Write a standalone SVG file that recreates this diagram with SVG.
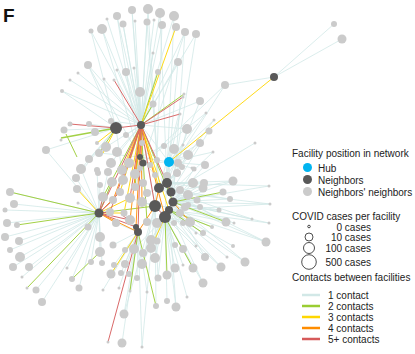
<svg xmlns="http://www.w3.org/2000/svg" width="415" height="354" viewBox="0 0 415 354">
<style>
text{font-family:"Liberation Sans",Arial,sans-serif;font-size:10px;fill:#222}
.e1{stroke:#d2e8e7;stroke-width:0.8}
.e2{stroke:#9acd32;stroke-width:1}
.e3{stroke:#ffd700;stroke-width:1}
.e4{stroke:#ff8c00;stroke-width:1}
.e5{stroke:#d65a5a;stroke-width:1}
.col{opacity:0.9}
.nn{fill:#cbcbcb}
.nb{fill:#595959}
.hub{fill:#00b4f0}
.sz{fill:#fff;stroke:#222;stroke-width:0.8}
</style>
<rect width="415" height="354" fill="#fff"/>
<text x="3" y="22" style="font-size:19px;font-weight:bold;fill:#111">F</text>
<g id="connectors" fill="none">
<g class="e1">
<line x1="141" y1="125" x2="132" y2="10"/><line x1="141" y1="125" x2="148" y2="9"/><line x1="141" y1="125" x2="160" y2="13"/><line x1="141" y1="125" x2="174" y2="16"/><line x1="141" y1="125" x2="117" y2="16"/><line x1="141" y1="125" x2="123" y2="24"/><line x1="141" y1="125" x2="147" y2="22"/><line x1="141" y1="125" x2="162" y2="25"/><line x1="141" y1="125" x2="185" y2="32"/><line x1="141" y1="125" x2="196" y2="34"/><line x1="141" y1="125" x2="102" y2="29"/><line x1="141" y1="125" x2="91" y2="31"/><line x1="141" y1="125" x2="107" y2="19"/><line x1="141" y1="125" x2="135" y2="21"/><line x1="141" y1="125" x2="154" y2="20"/><line x1="141" y1="125" x2="153" y2="53"/><line x1="141" y1="125" x2="178" y2="62"/><line x1="141" y1="125" x2="88" y2="65"/><line x1="141" y1="125" x2="78" y2="73"/><line x1="141" y1="125" x2="70" y2="80"/><line x1="141" y1="125" x2="62" y2="91"/><line x1="141" y1="125" x2="104" y2="79"/><line x1="141" y1="125" x2="126" y2="72"/><line x1="141" y1="125" x2="134" y2="68"/><line x1="141" y1="125" x2="140" y2="92"/><line x1="141" y1="125" x2="153" y2="104"/><line x1="141" y1="125" x2="200" y2="101"/><line x1="141" y1="125" x2="187" y2="129"/><line x1="141" y1="125" x2="111" y2="121"/><line x1="141" y1="125" x2="126" y2="135"/><line x1="141" y1="125" x2="117" y2="70"/>
<line x1="143" y1="163" x2="132" y2="10"/><line x1="167" y1="183" x2="160" y2="13"/><line x1="140" y1="157" x2="117" y2="16"/><line x1="155" y1="206" x2="162" y2="25"/><line x1="171" y1="192" x2="196" y2="34"/><line x1="167" y1="183" x2="178" y2="62"/><line x1="167" y1="183" x2="200" y2="101"/><line x1="171" y1="192" x2="187" y2="129"/><line x1="140" y1="157" x2="102" y2="29"/><line x1="116" y1="128" x2="88" y2="65"/><line x1="116" y1="128" x2="91" y2="31"/><line x1="143" y1="163" x2="185" y2="32"/><line x1="159" y1="188" x2="147" y2="22"/><line x1="165" y1="217" x2="174" y2="16"/><line x1="159" y1="188" x2="148" y2="9"/><line x1="173" y1="202" x2="185" y2="32"/><line x1="155" y1="206" x2="123" y2="24"/><line x1="143" y1="163" x2="88" y2="65"/>
<line x1="116" y1="128" x2="89" y2="124"/><line x1="116" y1="128" x2="64" y2="130"/><line x1="116" y1="128" x2="95" y2="132"/><line x1="116" y1="128" x2="46" y2="150"/><line x1="116" y1="128" x2="89" y2="159"/><line x1="116" y1="128" x2="81" y2="169"/><line x1="116" y1="128" x2="76" y2="178"/><line x1="116" y1="128" x2="62" y2="91"/>
<line x1="141" y1="125" x2="106" y2="147"/><line x1="141" y1="125" x2="117" y2="152"/><line x1="141" y1="125" x2="111" y2="163"/><line x1="141" y1="125" x2="129" y2="163"/><line x1="141" y1="125" x2="142" y2="143"/>
<line x1="140" y1="157" x2="150" y2="165"/><line x1="140" y1="157" x2="155" y2="175"/><line x1="140" y1="157" x2="164" y2="146"/><line x1="140" y1="157" x2="157" y2="160"/><line x1="140" y1="157" x2="129" y2="163"/><line x1="140" y1="157" x2="99" y2="153"/>
<line x1="169" y1="162" x2="167" y2="176"/><line x1="169" y1="162" x2="174" y2="149"/><line x1="169" y1="162" x2="188" y2="155"/><line x1="169" y1="162" x2="178" y2="163"/><line x1="169" y1="162" x2="192" y2="168"/><line x1="169" y1="162" x2="183" y2="145"/><line x1="169" y1="162" x2="180" y2="114"/><line x1="169" y1="162" x2="206" y2="113"/><line x1="169" y1="162" x2="214" y2="120"/><line x1="169" y1="162" x2="141" y2="125"/><line x1="169" y1="162" x2="143" y2="163"/><line x1="169" y1="162" x2="167" y2="183"/><line x1="169" y1="162" x2="171" y2="192"/><line x1="169" y1="162" x2="140" y2="157"/><line x1="169" y1="162" x2="200" y2="143"/><line x1="169" y1="162" x2="205" y2="165"/><line x1="169" y1="162" x2="213" y2="152"/>
<line x1="274" y1="77" x2="225" y2="85"/><line x1="143" y1="163" x2="225" y2="85"/><line x1="274" y1="77" x2="334" y2="24"/><line x1="274" y1="77" x2="342" y2="39"/><line x1="171" y1="192" x2="255" y2="143"/><line x1="171" y1="192" x2="209" y2="131"/><line x1="155" y1="206" x2="184" y2="94"/><line x1="143" y1="163" x2="206" y2="113"/><line x1="159" y1="188" x2="225" y2="85"/><line x1="167" y1="183" x2="214" y2="120"/>
<line x1="99" y1="213" x2="10" y2="192"/><line x1="99" y1="213" x2="14" y2="204"/><line x1="99" y1="213" x2="5" y2="210"/><line x1="99" y1="213" x2="7" y2="223"/><line x1="99" y1="213" x2="5" y2="237"/><line x1="99" y1="213" x2="19" y2="241"/><line x1="99" y1="213" x2="10" y2="250"/><line x1="99" y1="213" x2="20" y2="257"/><line x1="99" y1="213" x2="13" y2="267"/><line x1="99" y1="213" x2="29" y2="267"/><line x1="99" y1="213" x2="22" y2="277"/><line x1="99" y1="213" x2="36" y2="290"/><line x1="99" y1="213" x2="42" y2="302"/><line x1="99" y1="213" x2="72" y2="279"/><line x1="99" y1="213" x2="79" y2="288"/><line x1="99" y1="213" x2="67" y2="268"/><line x1="99" y1="213" x2="78" y2="203"/><line x1="99" y1="213" x2="88" y2="227"/><line x1="99" y1="213" x2="100" y2="237"/><line x1="99" y1="213" x2="100" y2="252"/><line x1="99" y1="213" x2="91" y2="262"/><line x1="99" y1="213" x2="102" y2="263"/><line x1="99" y1="213" x2="100" y2="185"/><line x1="99" y1="213" x2="97" y2="170"/><line x1="99" y1="213" x2="108" y2="172"/><line x1="99" y1="213" x2="81" y2="169"/><line x1="99" y1="213" x2="76" y2="178"/><line x1="99" y1="213" x2="46" y2="150"/>
<line x1="138" y1="232" x2="111" y2="274"/><line x1="138" y1="232" x2="121" y2="273"/><line x1="138" y1="232" x2="129" y2="274"/><line x1="138" y1="232" x2="137" y2="278"/><line x1="138" y1="232" x2="124" y2="314"/><line x1="138" y1="232" x2="122" y2="343"/><line x1="138" y1="232" x2="142" y2="347"/><line x1="138" y1="232" x2="125" y2="250"/><line x1="138" y1="232" x2="125" y2="264"/><line x1="138" y1="232" x2="114" y2="265"/><line x1="138" y1="232" x2="113" y2="245"/><line x1="138" y1="232" x2="103" y2="290"/><line x1="138" y1="232" x2="119" y2="288"/><line x1="138" y1="232" x2="130" y2="291"/><line x1="138" y1="232" x2="147" y2="292"/>
<line x1="165" y1="217" x2="142" y2="264"/><line x1="165" y1="217" x2="155" y2="258"/><line x1="165" y1="217" x2="151" y2="248"/><line x1="165" y1="217" x2="143" y2="253"/><line x1="165" y1="217" x2="134" y2="249"/><line x1="165" y1="217" x2="158" y2="278"/><line x1="165" y1="217" x2="175" y2="268"/><line x1="165" y1="217" x2="183" y2="265"/><line x1="165" y1="217" x2="193" y2="268"/><line x1="165" y1="217" x2="203" y2="283"/><line x1="165" y1="217" x2="205" y2="257"/><line x1="165" y1="217" x2="183" y2="249"/><line x1="165" y1="217" x2="175" y2="245"/><line x1="165" y1="217" x2="157" y2="241"/><line x1="165" y1="217" x2="167" y2="301"/><line x1="165" y1="217" x2="176" y2="307"/><line x1="165" y1="217" x2="187" y2="297"/><line x1="155" y1="206" x2="124" y2="314"/><line x1="155" y1="206" x2="142" y2="264"/><line x1="155" y1="206" x2="158" y2="278"/><line x1="155" y1="206" x2="156" y2="306"/><line x1="155" y1="206" x2="142" y2="347"/><line x1="169" y1="210" x2="203" y2="283"/><line x1="169" y1="210" x2="176" y2="307"/><line x1="173" y1="202" x2="205" y2="257"/>
<line x1="173" y1="202" x2="233" y2="181"/><line x1="173" y1="202" x2="230" y2="199"/><line x1="173" y1="202" x2="219" y2="210"/><line x1="173" y1="202" x2="234" y2="223"/><line x1="173" y1="202" x2="252" y2="219"/><line x1="173" y1="202" x2="269" y2="186"/><line x1="173" y1="202" x2="270" y2="204"/><line x1="173" y1="202" x2="269" y2="223"/><line x1="173" y1="202" x2="266" y2="242"/><line x1="173" y1="202" x2="245" y2="262"/><line x1="173" y1="202" x2="203" y2="188"/><line x1="173" y1="202" x2="194" y2="169"/><line x1="173" y1="202" x2="193" y2="183"/><line x1="173" y1="202" x2="197" y2="200"/><line x1="173" y1="202" x2="188" y2="205"/><line x1="173" y1="202" x2="204" y2="183"/>
<line x1="169" y1="210" x2="226" y2="222"/><line x1="169" y1="210" x2="212" y2="227"/><line x1="169" y1="210" x2="266" y2="242"/><line x1="169" y1="210" x2="233" y2="246"/><line x1="169" y1="210" x2="227" y2="257"/><line x1="169" y1="210" x2="221" y2="267"/><line x1="169" y1="210" x2="245" y2="262"/><line x1="169" y1="210" x2="196" y2="246"/><line x1="169" y1="210" x2="190" y2="222"/><line x1="169" y1="210" x2="196" y2="233"/><line x1="169" y1="210" x2="269" y2="223"/><line x1="169" y1="210" x2="270" y2="204"/><line x1="169" y1="210" x2="203" y2="233"/>
<line x1="167" y1="183" x2="233" y2="181"/><line x1="167" y1="183" x2="269" y2="186"/><line x1="167" y1="183" x2="203" y2="188"/><line x1="167" y1="183" x2="193" y2="183"/><line x1="167" y1="183" x2="204" y2="183"/><line x1="167" y1="183" x2="188" y2="155"/><line x1="171" y1="192" x2="252" y2="219"/><line x1="171" y1="192" x2="270" y2="204"/><line x1="165" y1="217" x2="183" y2="223"/><line x1="165" y1="217" x2="190" y2="222"/><line x1="165" y1="217" x2="174" y2="223"/><line x1="171" y1="192" x2="233" y2="181"/><line x1="171" y1="192" x2="226" y2="222"/><line x1="159" y1="188" x2="230" y2="199"/><line x1="155" y1="206" x2="219" y2="210"/><line x1="159" y1="188" x2="266" y2="242"/><line x1="167" y1="183" x2="200" y2="143"/><line x1="171" y1="192" x2="213" y2="152"/><line x1="173" y1="202" x2="205" y2="165"/><line x1="155" y1="206" x2="221" y2="267"/>
<line x1="99" y1="213" x2="103" y2="197"/><line x1="99" y1="213" x2="113" y2="200"/><line x1="141" y1="125" x2="120" y2="192"/><line x1="155" y1="206" x2="130" y2="198"/><line x1="155" y1="206" x2="142" y2="202"/><line x1="99" y1="213" x2="110" y2="212"/><line x1="138" y1="232" x2="116" y2="223"/><line x1="138" y1="232" x2="130" y2="220"/><line x1="165" y1="217" x2="147" y2="222"/><line x1="165" y1="217" x2="157" y2="223"/><line x1="143" y1="163" x2="143" y2="183"/><line x1="159" y1="188" x2="147" y2="193"/><line x1="116" y1="128" x2="123" y2="180"/><line x1="99" y1="213" x2="112" y2="182"/><line x1="138" y1="232" x2="124" y2="213"/><line x1="165" y1="217" x2="151" y2="240"/><line x1="171" y1="192" x2="180" y2="190"/><line x1="173" y1="202" x2="188" y2="195"/><line x1="169" y1="210" x2="185" y2="207"/><line x1="173" y1="202" x2="200" y2="207"/><line x1="167" y1="183" x2="177" y2="173"/><line x1="169" y1="162" x2="182" y2="167"/><line x1="143" y1="163" x2="135" y2="187"/><line x1="140" y1="157" x2="140" y2="168"/>
</g>
<g class="col">
<g class="e2">
<line x1="116" y1="128" x2="61" y2="138" style="stroke-width:1.6"/><line x1="141" y1="125" x2="158" y2="72"/><line x1="141" y1="125" x2="184" y2="94"/><line x1="141" y1="125" x2="153" y2="104"/><line x1="116" y1="128" x2="99" y2="153"/><line x1="66" y1="134" x2="77" y2="157"/>
<line x1="99" y1="213" x2="10" y2="192"/><line x1="99" y1="213" x2="17" y2="225"/><line x1="99" y1="213" x2="27" y2="288"/><line x1="72" y1="279" x2="100" y2="252"/><line x1="99" y1="213" x2="155" y2="206"/><line x1="99" y1="213" x2="112" y2="182"/>
<line x1="141" y1="125" x2="103" y2="197"/><line x1="141" y1="125" x2="147" y2="222"/><line x1="141" y1="125" x2="173" y2="202"/><line x1="141" y1="125" x2="135" y2="187"/>
<line x1="173" y1="202" x2="223" y2="192"/><line x1="169" y1="210" x2="203" y2="233"/><line x1="173" y1="202" x2="226" y2="222"/><line x1="169" y1="210" x2="212" y2="227"/>
<line x1="138" y1="232" x2="156" y2="306"/><line x1="165" y1="217" x2="167" y2="275"/><line x1="165" y1="217" x2="193" y2="268"/><line x1="138" y1="232" x2="130" y2="291"/>
</g>
<g class="e3">
<line x1="141" y1="125" x2="176" y2="27"/><line x1="274" y1="77" x2="169" y2="162"/><line x1="141" y1="125" x2="159" y2="188"/><line x1="141" y1="125" x2="120" y2="192"/><line x1="141" y1="125" x2="124" y2="213"/><line x1="141" y1="125" x2="169" y2="210"/><line x1="141" y1="125" x2="122" y2="170"/>
<line x1="99" y1="213" x2="130" y2="198"/><line x1="99" y1="213" x2="124" y2="213"/><line x1="99" y1="213" x2="77" y2="189"/><line x1="116" y1="128" x2="97" y2="143"/><line x1="138" y1="232" x2="111" y2="274"/><line x1="165" y1="217" x2="151" y2="248"/><line x1="116" y1="128" x2="103" y2="153"/>
</g>
<g class="e4">
<line x1="141" y1="125" x2="113" y2="200"/><line x1="141" y1="125" x2="142" y2="202"/><line x1="141" y1="125" x2="165" y2="217"/><line x1="141" y1="125" x2="130" y2="220"/><line x1="141" y1="125" x2="136" y2="227"/><line x1="141" y1="125" x2="135" y2="174"/>
<line x1="99" y1="213" x2="120" y2="192"/><line x1="99" y1="213" x2="116" y2="223"/><line x1="99" y1="213" x2="138" y2="232"/><line x1="159" y1="188" x2="155" y2="206"/><line x1="167" y1="183" x2="171" y2="192"/><line x1="155" y1="206" x2="138" y2="232"/><line x1="173" y1="202" x2="190" y2="222"/>
</g>
<g class="e5">
<line x1="141" y1="125" x2="180" y2="114"/><line x1="141" y1="125" x2="183" y2="97"/><line x1="141" y1="125" x2="114" y2="80"/><line x1="116" y1="128" x2="70" y2="124"/><line x1="141" y1="125" x2="116" y2="128"/><line x1="141" y1="125" x2="99" y2="213"/><line x1="141" y1="125" x2="155" y2="206"/><line x1="141" y1="125" x2="167" y2="183"/><line x1="141" y1="125" x2="130" y2="198"/><line x1="141" y1="125" x2="110" y2="212"/><line x1="141" y1="125" x2="138" y2="232"/><line x1="141" y1="125" x2="123" y2="180"/>
<line x1="99" y1="213" x2="103" y2="197"/><line x1="99" y1="213" x2="113" y2="200"/><line x1="99" y1="213" x2="110" y2="212"/><line x1="99" y1="213" x2="130" y2="220"/><line x1="99" y1="213" x2="136" y2="227"/><line x1="108" y1="342" x2="138" y2="232"/><line x1="155" y1="206" x2="165" y2="217"/><line x1="122" y1="215" x2="133" y2="223"/>
</g>
</g>
</g>
<g id="nodes">
<g id="a1"><circle class="nn" cx="132" cy="10" r="4"/></g><g id="a2"><circle class="nn" cx="148" cy="9" r="5"/></g><g id="a3"><circle class="nn" cx="160" cy="13" r="5"/></g><g id="a4"><circle class="nn" cx="174" cy="16" r="5"/></g><g id="a5"><circle class="nn" cx="117" cy="16" r="4"/></g><g id="a6"><circle class="nn" cx="123" cy="24" r="3.5"/></g><g id="a7"><circle class="nn" cx="147" cy="22" r="3.5"/></g><g id="a8"><circle class="nn" cx="162" cy="25" r="4"/></g><g id="a9"><circle class="nn" cx="176" cy="27" r="4"/></g><g id="a10"><circle class="nn" cx="185" cy="32" r="4"/></g><g id="a11"><circle class="nn" cx="196" cy="34" r="4"/></g><g id="a12"><circle class="nn" cx="102" cy="29" r="5"/></g><g id="a13"><circle class="nn" cx="91" cy="31" r="2.5"/></g><g id="a14"><circle class="nn" cx="107" cy="19" r="1.5"/></g><g id="a15"><circle class="nn" cx="135" cy="21" r="1.5"/></g><g id="a16"><circle class="nn" cx="154" cy="20" r="1.5"/></g><g id="a17"><circle class="nn" cx="153" cy="53" r="1.5"/></g><g id="a18"><circle class="nn" cx="178" cy="62" r="4"/></g><g id="a19"><circle class="nn" cx="88" cy="65" r="4"/></g><g id="a20"><circle class="nn" cx="78" cy="73" r="1.5"/></g><g id="a21"><circle class="nn" cx="70" cy="80" r="1.5"/></g><g id="a22"><circle class="nn" cx="62" cy="91" r="2"/></g><g id="a23"><circle class="nn" cx="104" cy="79" r="1.5"/></g><g id="a23b"><circle class="nn" cx="114" cy="80" r="1.5"/></g><g id="a24"><circle class="nn" cx="117" cy="70" r="1.5"/></g><g id="a25"><circle class="nn" cx="126" cy="72" r="4"/></g><g id="a26"><circle class="nn" cx="134" cy="68" r="1.5"/></g><g id="a27"><circle class="nn" cx="158" cy="72" r="3"/></g><g id="a28"><circle class="nn" cx="140" cy="92" r="5"/></g><g id="a29"><circle class="nn" cx="153" cy="104" r="3.5"/></g><g id="a30"><circle class="nn" cx="180" cy="114" r="1.5"/></g><g id="a31"><circle class="nn" cx="183" cy="97" r="1.5"/></g><g id="a32"><circle class="nn" cx="200" cy="101" r="4"/></g><g id="a33"><circle class="nn" cx="187" cy="129" r="5"/></g><g id="a34"><circle class="nn" cx="184" cy="94" r="1.5"/></g><g id="a35"><circle class="nn" cx="206" cy="113" r="1.5"/></g><g id="a36"><circle class="nn" cx="214" cy="120" r="1.5"/></g><g id="a37"><circle class="nn" cx="225" cy="85" r="4"/></g><g id="a38"><circle class="nn" cx="209" cy="131" r="3.5"/></g><g id="a39"><circle class="nn" cx="183" cy="145" r="1.5"/></g><g id="a40"><circle class="nn" cx="255" cy="143" r="1.5"/></g><g id="a41"><circle class="nn" cx="334" cy="24" r="3"/></g><g id="a42"><circle class="nn" cx="342" cy="39" r="4.5"/></g><g id="a43"><circle class="nn" cx="200" cy="143" r="4"/></g><g id="a44"><circle class="nn" cx="205" cy="165" r="4"/></g><g id="a45"><circle class="nn" cx="213" cy="152" r="1.5"/></g>
<g id="b1"><circle class="nn" cx="111" cy="121" r="3"/></g><g id="b2"><circle class="nn" cx="89" cy="124" r="3"/></g><g id="b3"><circle class="nn" cx="70" cy="124" r="2.5"/></g><g id="b4"><circle class="nn" cx="64" cy="130" r="3.5"/></g><g id="b5"><circle class="nn" cx="61" cy="140" r="1.5"/></g><g id="b6"><circle class="nn" cx="95" cy="132" r="4"/></g><g id="b7"><circle class="nn" cx="126" cy="135" r="3"/></g><g id="b8"><circle class="nn" cx="46" cy="150" r="4"/></g><g id="b9"><circle class="nn" cx="81" cy="169" r="5"/></g><g id="b10"><circle class="nn" cx="89" cy="159" r="4"/></g><g id="b11"><circle class="nn" cx="106" cy="147" r="5"/></g><g id="b12"><circle class="nn" cx="99" cy="153" r="4"/></g><g id="b13"><circle class="nn" cx="117" cy="152" r="5"/></g><g id="b14"><circle class="nn" cx="111" cy="163" r="5"/></g><g id="b15"><circle class="nn" cx="129" cy="163" r="5"/></g><g id="b16"><circle class="nn" cx="76" cy="178" r="4"/></g><g id="b17"><circle class="nn" cx="98" cy="173" r="3"/></g><g id="b18"><circle class="nn" cx="122" cy="170" r="5"/></g><g id="b19"><circle class="nn" cx="135" cy="174" r="5"/></g><g id="b20"><circle class="nn" cx="150" cy="165" r="3"/></g><g id="b21"><circle class="nn" cx="155" cy="175" r="3"/></g><g id="b22"><circle class="nn" cx="167" cy="176" r="4"/></g><g id="b23"><circle class="nn" cx="174" cy="149" r="5"/></g><g id="b24"><circle class="nn" cx="188" cy="155" r="5"/></g><g id="b25"><circle class="nn" cx="164" cy="146" r="3"/></g><g id="b26"><circle class="nn" cx="157" cy="160" r="3"/></g><g id="b27"><circle class="nn" cx="178" cy="163" r="4"/></g><g id="b28"><circle class="nn" cx="192" cy="168" r="1.5"/></g><g id="b29"><circle class="nn" cx="142" cy="143" r="3"/></g><g id="b30"><circle class="nn" cx="97" cy="143" r="2"/></g>
<g id="c1"><circle class="nn" cx="10" cy="192" r="4"/></g><g id="c2"><circle class="nn" cx="14" cy="204" r="4"/></g><g id="c3"><circle class="nn" cx="5" cy="210" r="2.5"/></g><g id="c4"><circle class="nn" cx="7" cy="223" r="4"/></g><g id="c5"><circle class="nn" cx="17" cy="225" r="3"/></g><g id="c6"><circle class="nn" cx="5" cy="237" r="4"/></g><g id="c7"><circle class="nn" cx="19" cy="241" r="4"/></g><g id="c8"><circle class="nn" cx="10" cy="250" r="3"/></g><g id="c9"><circle class="nn" cx="20" cy="257" r="5"/></g><g id="c10"><circle class="nn" cx="13" cy="267" r="4"/></g><g id="c11"><circle class="nn" cx="29" cy="267" r="4"/></g><g id="c12"><circle class="nn" cx="22" cy="277" r="1.5"/></g><g id="c13"><circle class="nn" cx="27" cy="288" r="1.5"/></g><g id="c14"><circle class="nn" cx="36" cy="290" r="3.5"/></g><g id="c15"><circle class="nn" cx="42" cy="302" r="4"/></g><g id="c16"><circle class="nn" cx="72" cy="279" r="3"/></g><g id="c17"><circle class="nn" cx="79" cy="288" r="3.5"/></g><g id="c18"><circle class="nn" cx="67" cy="268" r="1.5"/></g><g id="c19"><circle class="nn" cx="78" cy="203" r="1.5"/></g><g id="c20"><circle class="nn" cx="88" cy="227" r="3.5"/></g><g id="c22"><circle class="nn" cx="77" cy="189" r="4"/></g><g id="c23"><circle class="nn" cx="100" cy="237" r="5"/></g><g id="c24"><circle class="nn" cx="100" cy="252" r="5"/></g><g id="c25"><circle class="nn" cx="91" cy="262" r="3"/></g><g id="c26"><circle class="nn" cx="102" cy="263" r="3"/></g><g id="c27"><circle class="nn" cx="103" cy="290" r="1.5"/></g><g id="c28"><circle class="nn" cx="119" cy="288" r="1.5"/></g>
<g id="d1"><circle class="nn" cx="111" cy="274" r="4.5"/></g><g id="d2"><circle class="nn" cx="121" cy="273" r="3"/></g><g id="d3"><circle class="nn" cx="129" cy="274" r="3"/></g><g id="d4"><circle class="nn" cx="137" cy="278" r="3"/></g><g id="d5"><circle class="nn" cx="124" cy="314" r="4.5"/></g><g id="d6"><circle class="nn" cx="122" cy="343" r="4.5"/></g><g id="d7"><circle class="nn" cx="108" cy="342" r="1.5"/></g><g id="d8"><circle class="nn" cx="142" cy="347" r="1.5"/></g><g id="d9"><circle class="nn" cx="142" cy="264" r="5"/></g><g id="d10"><circle class="nn" cx="155" cy="258" r="5"/></g><g id="d11"><circle class="nn" cx="151" cy="248" r="5"/></g><g id="d12"><circle class="nn" cx="143" cy="253" r="4"/></g><g id="d13"><circle class="nn" cx="134" cy="249" r="5"/></g><g id="d14"><circle class="nn" cx="125" cy="250" r="3"/></g><g id="d15"><circle class="nn" cx="125" cy="264" r="4"/></g><g id="d16"><circle class="nn" cx="114" cy="265" r="3"/></g><g id="d17"><circle class="nn" cx="113" cy="245" r="3.5"/></g><g id="d18"><circle class="nn" cx="158" cy="278" r="3.5"/></g><g id="d19"><circle class="nn" cx="167" cy="275" r="4.5"/></g><g id="d20"><circle class="nn" cx="175" cy="268" r="4.5"/></g><g id="d21"><circle class="nn" cx="183" cy="265" r="1.5"/></g><g id="d22"><circle class="nn" cx="193" cy="268" r="4.5"/></g><g id="d23"><circle class="nn" cx="203" cy="283" r="4.5"/></g><g id="d24"><circle class="nn" cx="205" cy="257" r="4"/></g><g id="d25"><circle class="nn" cx="183" cy="249" r="4"/></g><g id="d26"><circle class="nn" cx="175" cy="245" r="3"/></g><g id="d27"><circle class="nn" cx="157" cy="241" r="3.5"/></g><g id="d28"><circle class="nn" cx="147" cy="292" r="1.5"/></g><g id="d29"><circle class="nn" cx="156" cy="306" r="3"/></g><g id="d30"><circle class="nn" cx="167" cy="301" r="3"/></g><g id="d31"><circle class="nn" cx="176" cy="307" r="4.5"/></g><g id="d32"><circle class="nn" cx="187" cy="297" r="1.5"/></g><g id="d33"><circle class="nn" cx="130" cy="291" r="1.5"/></g>
<g id="e1n"><circle class="nn" cx="233" cy="181" r="4.5"/></g><g id="e2n"><circle class="nn" cx="223" cy="192" r="3.5"/></g><g id="e3n"><circle class="nn" cx="230" cy="199" r="3"/></g><g id="e4n"><circle class="nn" cx="219" cy="210" r="2.5"/></g><g id="e5n"><circle class="nn" cx="226" cy="222" r="4.5"/></g><g id="e6n"><circle class="nn" cx="234" cy="223" r="1.5"/></g><g id="e7n"><circle class="nn" cx="212" cy="227" r="2"/></g><g id="e8n"><circle class="nn" cx="203" cy="233" r="3"/></g><g id="e9n"><circle class="nn" cx="252" cy="219" r="1.5"/></g><g id="e10n"><circle class="nn" cx="269" cy="186" r="1.5"/></g><g id="e11n"><circle class="nn" cx="270" cy="204" r="1.5"/></g><g id="e12n"><circle class="nn" cx="269" cy="223" r="1.5"/></g><g id="e13n"><circle class="nn" cx="266" cy="242" r="4.5"/></g><g id="e14n"><circle class="nn" cx="233" cy="246" r="2"/></g><g id="e15n"><circle class="nn" cx="227" cy="257" r="1.5"/></g><g id="e16n"><circle class="nn" cx="221" cy="267" r="4.5"/></g><g id="e17n"><circle class="nn" cx="245" cy="262" r="4.5"/></g><g id="e18n"><circle class="nn" cx="203" cy="188" r="4.5"/></g><g id="e19n"><circle class="nn" cx="194" cy="169" r="2.5"/></g><g id="e20n"><circle class="nn" cx="193" cy="183" r="5"/></g><g id="e21n"><circle class="nn" cx="197" cy="200" r="3.5"/></g><g id="e22n"><circle class="nn" cx="196" cy="246" r="1.5"/></g><g id="e23n"><circle class="nn" cx="183" cy="223" r="3"/></g><g id="e24n"><circle class="nn" cx="188" cy="205" r="3"/></g><g id="e25n"><circle class="nn" cx="204" cy="183" r="4"/></g><g id="e26n"><circle class="nn" cx="190" cy="222" r="5"/></g><g id="e27n"><circle class="nn" cx="180" cy="213" r="4"/></g><g id="e28n"><circle class="nn" cx="174" cy="223" r="3"/></g><g id="e29n"><circle class="nn" cx="196" cy="233" r="1.5"/></g>
<g id="f1"><circle class="nn" cx="103" cy="197" r="5"/></g><g id="f2"><circle class="nn" cx="113" cy="200" r="4"/></g><g id="f3"><circle class="nn" cx="120" cy="192" r="4"/></g><g id="f4"><circle class="nn" cx="130" cy="198" r="5"/></g><g id="f5"><circle class="nn" cx="142" cy="202" r="5"/></g><g id="f6"><circle class="nn" cx="110" cy="212" r="4"/></g><g id="f7"><circle class="nn" cx="116" cy="223" r="4"/></g><g id="f8"><circle class="nn" cx="130" cy="220" r="5"/></g><g id="f9"><circle class="nn" cx="147" cy="222" r="4"/></g><g id="f10"><circle class="nn" cx="157" cy="223" r="5"/></g><g id="f11"><circle class="nn" cx="143" cy="183" r="4"/></g><g id="f12"><circle class="nn" cx="147" cy="193" r="4"/></g><g id="f13"><circle class="nn" cx="123" cy="180" r="5"/></g><g id="f14"><circle class="nn" cx="112" cy="182" r="5"/></g><g id="f15"><circle class="nn" cx="100" cy="185" r="3"/></g><g id="f16"><circle class="nn" cx="97" cy="170" r="3"/></g><g id="f17"><circle class="nn" cx="108" cy="172" r="4"/></g><g id="f18"><circle class="nn" cx="124" cy="213" r="3.5"/></g><g id="f19"><circle class="nn" cx="151" cy="240" r="5"/></g><g id="f20"><circle class="nn" cx="180" cy="190" r="4"/></g><g id="f21"><circle class="nn" cx="188" cy="195" r="5"/></g><g id="f22"><circle class="nn" cx="185" cy="207" r="4"/></g><g id="f23"><circle class="nn" cx="200" cy="207" r="3"/></g><g id="f24"><circle class="nn" cx="177" cy="173" r="4"/></g><g id="f25"><circle class="nn" cx="182" cy="167" r="3"/></g><g id="f26"><circle class="nn" cx="135" cy="187" r="4"/></g><g id="f27"><circle class="nn" cx="140" cy="168" r="3"/></g>
<g id="N1"><circle class="nb" cx="141" cy="125" r="4"/></g><g id="N2"><circle class="nb" cx="116" cy="128" r="6"/></g><g id="N3"><circle class="nb" cx="99" cy="213" r="4.5"/></g><g id="N4"><circle class="nb" cx="274" cy="77" r="4"/></g><g id="N5"><circle class="nb" cx="140" cy="157" r="3"/></g><g id="N6"><circle class="nb" cx="143" cy="163" r="3.5"/></g><g id="N7"><circle class="nb" cx="167" cy="183" r="5"/></g><g id="N8"><circle class="nb" cx="159" cy="188" r="5"/></g><g id="N9"><circle class="nb" cx="171" cy="192" r="4.5"/></g><g id="N10"><circle class="nb" cx="173" cy="202" r="4.5"/></g><g id="N11"><circle class="nb" cx="155" cy="206" r="6"/></g><g id="N12"><circle class="nb" cx="169" cy="210" r="4"/></g><g id="N13"><circle class="nb" cx="165" cy="217" r="6"/></g><g id="N14"><circle class="nb" cx="136" cy="227" r="3"/></g><g id="N15"><circle class="nb" cx="138" cy="232" r="4"/></g>
<g id="hub"><circle class="hub" cx="169" cy="162" r="5"/></g>
</g>
<g id="legend">
<text x="292" y="156.5">Facility position in network</text>
<circle class="hub" cx="307.5" cy="167.5" r="4.5"/><text x="318" y="171.5">Hub</text>
<circle class="nb" cx="307.5" cy="179.5" r="4.5"/><text x="318" y="183.5">Neighbors</text>
<circle class="nn" cx="307.5" cy="191.5" r="4.5"/><text x="318" y="195.5">Neighbors' neighbors</text>
<text x="292" y="219.5">COVID cases per facility</text>
<circle class="sz" cx="309" cy="226.5" r="1.3"/><text x="371" y="231" text-anchor="end">0 cases</text>
<circle class="sz" cx="309" cy="237" r="4"/><text x="371" y="241" text-anchor="end">10 cases</text>
<circle class="sz" cx="309" cy="248" r="5.5"/><text x="371" y="251.5" text-anchor="end">100 cases</text>
<circle class="sz" cx="309" cy="262" r="7.3"/><text x="371" y="265.5" text-anchor="end">500 cases</text>
<text x="292" y="281">Contacts between facilities</text>
<line class="e1" x1="302" y1="295" x2="320" y2="295" style="stroke-width:2.5"/><text x="328" y="298.5">1 contact</text>
<line class="e2" x1="302" y1="306" x2="320" y2="306" style="stroke-width:2.5"/><text x="328" y="309.5">2 contacts</text>
<line class="e3" x1="302" y1="317" x2="320" y2="317" style="stroke-width:2.5"/><text x="328" y="320.5">3 contacts</text>
<line class="e4" x1="302" y1="328" x2="320" y2="328" style="stroke-width:2.5"/><text x="328" y="331.5">4 contacts</text>
<line class="e5" x1="302" y1="339" x2="320" y2="339" style="stroke-width:2.5"/><text x="328" y="342.5">5+ contacts</text>
</g>
</svg>
